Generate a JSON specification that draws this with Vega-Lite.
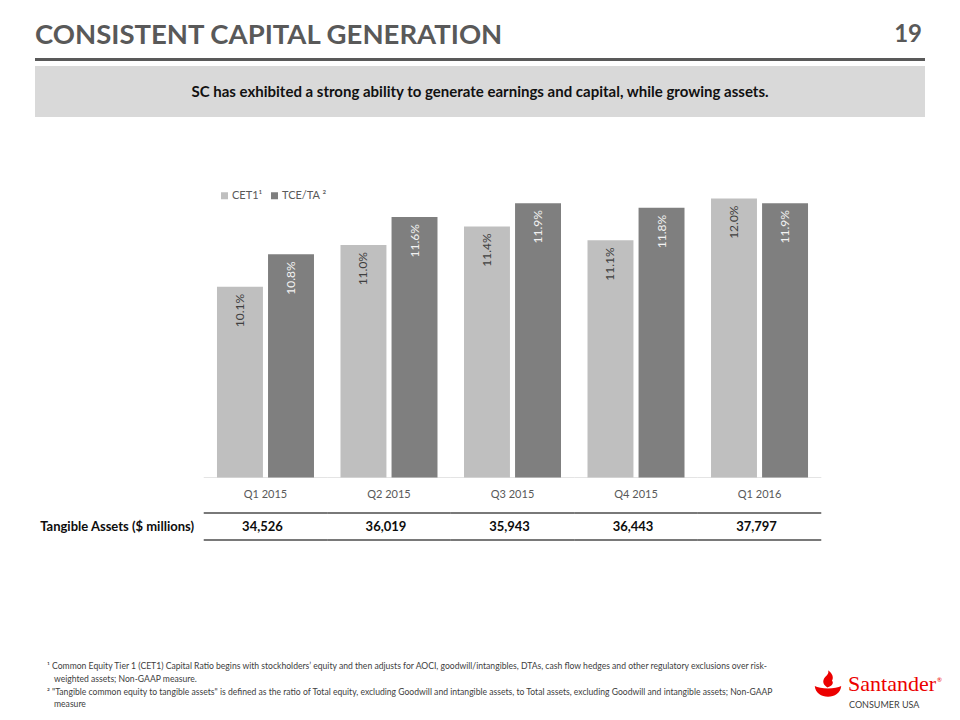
{
  "$schema": "https://vega.github.io/schema/vega-lite/v6.json",
  "background": "white",
  "padding": {"left": 35, "top": 22, "right": 0, "bottom": 0},
  "config": {"view": {"stroke": null}, "font": "Lato"},
  "datasets": {
    "header": [{"title": "CONSISTENT CAPITAL GENERATION", "page": "19"}],
    "banner": [{"msg": "SC has exhibited a strong ability to generate earnings and capital, while growing assets."}],
    "ratios": [
      {"quarter": "Q1 2015", "series": "CET1", "value": 0.101},
      {"quarter": "Q1 2015", "series": "TCE/TA", "value": 0.108},
      {"quarter": "Q2 2015", "series": "CET1", "value": 0.110},
      {"quarter": "Q2 2015", "series": "TCE/TA", "value": 0.116},
      {"quarter": "Q3 2015", "series": "CET1", "value": 0.114},
      {"quarter": "Q3 2015", "series": "TCE/TA", "value": 0.119},
      {"quarter": "Q4 2015", "series": "CET1", "value": 0.111},
      {"quarter": "Q4 2015", "series": "TCE/TA", "value": 0.118},
      {"quarter": "Q1 2016", "series": "CET1", "value": 0.120},
      {"quarter": "Q1 2016", "series": "TCE/TA", "value": 0.119}
    ],
    "assets": [
      {"quarter": "Q1 2015", "assets": 34526},
      {"quarter": "Q2 2015", "assets": 36019},
      {"quarter": "Q3 2015", "assets": 35943},
      {"quarter": "Q4 2015", "assets": 36443},
      {"quarter": "Q1 2016", "assets": 37797}
    ],
    "rowlabel": [{"label": "Tangible Assets ($ millions)"}],
    "notes": [
      {"line": 1, "note": "¹ Common Equity Tier 1 (CET1) Capital Ratio begins with stockholders’ equity and then adjusts for AOCI, goodwill/intangibles, DTAs, cash flow hedges and other regulatory exclusions over risk-"},
      {"line": 2, "note": "weighted assets; Non-GAAP measure."},
      {"line": 3, "note": "² \"Tangible common equity to tangible assets\" is defined as the ratio of Total equity, excluding Goodwill and intangible assets, to Total assets, excluding Goodwill and intangible assets; Non-GAAP"},
      {"line": 4, "note": "measure"}
    ],
    "logo": [{"brand": "Santander", "reg": "®", "sub": "CONSUMER USA"}]
  },
  "spacing": 5,
  "bounds": "flush",
  "resolve": {"scale": {"x": "independent", "y": "independent", "color": "independent", "xOffset": "independent"}},
  "vconcat": [
    {
      "width": 890,
      "height": 3,
      "view": {"fill": "#595959", "stroke": null},
      "data": {"name": "header"},
      "layer": [
        {
          "mark": {"type": "text", "align": "left", "baseline": "alphabetic", "dy": -15.5, "fontSize": 27.5, "fontWeight": "bold", "color": "#595959"},
          "encoding": {
            "x": {"datum": 0, "type": "quantitative", "scale": {"domain": [0, 1]}, "axis": null},
            "text": {"field": "title"}
          }
        },
        {
          "mark": {"type": "text", "align": "right", "baseline": "alphabetic", "dx": -3, "dy": -17.5, "fontSize": 24, "fontWeight": "bold", "color": "#595959"},
          "encoding": {
            "x": {"datum": 1, "type": "quantitative", "scale": {"domain": [0, 1]}, "axis": null},
            "text": {"field": "page"}
          }
        }
      ]
    },
    {
      "width": 890,
      "height": 51,
      "view": {"fill": "#d9d9d9", "stroke": null},
      "data": {"name": "banner"},
      "mark": {"type": "text", "fontSize": 15, "fontWeight": "bold", "color": "#111111", "baseline": "middle"},
      "encoding": {"text": {"field": "msg"}}
    },
    {
      "width": 890,
      "height": 355.5,
      "data": {"name": "ratios"},
      "encoding": {
        "x": {
          "field": "quarter",
          "type": "nominal",
          "sort": null,
          "scale": {"type": "band", "domain": ["Q1 2015", "Q2 2015", "Q3 2015", "Q4 2015", "Q1 2016"], "range": [170, 785], "paddingInner": 0.2146, "paddingOuter": 0.097, "align": 0.5},
          "axis": {"title": null, "domain": false, "ticks": false, "labelPadding": 11, "labelFontSize": 11, "labelColor": "#595959", "labelAngle": 0, "labelFont": "Lato"}
        }
      },
      "layer": [
        {
          "data": {"name": "assets"},
          "mark": {"type": "tick", "orient": "horizontal", "color": "#d9d9d9", "thickness": 1, "size": 123.5},
          "encoding": {
            "y": {"datum": 0.06, "type": "quantitative", "axis": null}
          }
        },
        {
          "mark": {"type": "bar"},
          "encoding": {
            "xOffset": {"field": "series", "type": "nominal", "scale": {"paddingInner": 0.1, "domain": ["CET1", "TCE/TA"]}},
            "y": {"field": "value", "type": "quantitative", "scale": {"domain": [0.06, 0.13645], "nice": false, "zero": false}, "axis": null},
            "y2": {"datum": 0.06},
            "color": {
              "field": "series",
              "type": "nominal",
              "scale": {"domain": ["CET1", "TCE/TA"], "range": ["#bfbfbf", "#7f7f7f"]},
              "legend": {
                "title": null,
                "orient": "none",
                "legendX": 184,
                "legendY": 68,
                "direction": "horizontal",
                "symbolType": "square",
                "symbolSize": 49,
                "symbolStrokeWidth": 0,
                "labelFontSize": 11,
                "labelColor": "#595959",
                "labelFont": "Lato",
                "columnPadding": 6,
                "labelOffset": 2,
                "padding": 0,
                "labelExpr": "datum.label === 'CET1' ? 'CET1¹' : 'TCE/TA ²'"
              }
            }
          }
        },
        {
          "mark": {"type": "text", "angle": 270, "align": "right", "baseline": "middle", "dx": -7, "fontSize": 12},
          "encoding": {
            "xOffset": {"field": "series", "type": "nominal", "scale": {"paddingInner": 0.1, "domain": ["CET1", "TCE/TA"]}},
            "y": {"field": "value", "type": "quantitative", "axis": null},
            "text": {"field": "value", "type": "quantitative", "format": ".1%"},
            "color": {"condition": {"test": "datum.series === 'CET1'", "value": "#404040"}, "value": "#f2f2f2"}
          }
        }
      ]
    },
    {
      "width": 890,
      "height": 24.5,
      "data": {"values": []},
      "mark": "point"
    },
    {
      "width": 890,
      "height": 27,
      "data": {"name": "assets"},
      "encoding": {
        "x": {
          "field": "quarter",
          "type": "nominal",
          "sort": null,
          "scale": {"type": "band", "domain": ["Q1 2015", "Q2 2015", "Q3 2015", "Q4 2015", "Q1 2016"], "range": [170, 785], "paddingInner": 0.2146, "paddingOuter": 0.097, "align": 0.5},
          "axis": null
        }
      },
      "layer": [
        {
          "mark": {"type": "tick", "orient": "horizontal", "color": "#000000", "thickness": 1.5, "size": 123.5},
          "encoding": {"y": {"datum": 1, "type": "quantitative", "scale": {"domain": [0, 1]}, "axis": null}}
        },
        {
          "mark": {"type": "tick", "orient": "horizontal", "color": "#000000", "thickness": 1.5, "size": 123.5},
          "encoding": {"y": {"datum": 0, "type": "quantitative", "axis": null}}
        },
        {
          "mark": {"type": "text", "fontWeight": "bold", "fontSize": 13, "color": "#0d0d0d", "baseline": "middle", "dx": -3},
          "encoding": {
            "y": {"datum": 0.5, "type": "quantitative", "axis": null},
            "text": {"field": "assets", "type": "quantitative", "format": ","}
          }
        },
        {
          "data": {"name": "rowlabel"},
          "mark": {"type": "text", "align": "right", "baseline": "middle", "fontWeight": "bold", "fontSize": 13, "color": "#0d0d0d", "dx": -23},
          "encoding": {
            "x": {"datum": "Q1 2015", "type": "nominal", "bandPosition": 0},
            "y": {"datum": 0.5, "type": "quantitative", "axis": null},
            "text": {"field": "label"}
          }
        }
      ]
    },
    {
      "width": 890,
      "height": 109.6,
      "data": {"values": []},
      "mark": "point"
    },
    {
      "width": 890,
      "height": 50.8,
      "resolve": {"scale": {"y": "independent"}},
      "layer": [
        {
          "data": {"name": "notes"},
          "transform": [{"filter": "datum.line % 2 == 1"}],
          "mark": {"type": "text", "align": "left", "baseline": "middle", "fontSize": 8.6, "color": "#404040", "dx": 12},
          "encoding": {
            "x": {"datum": 0, "type": "quantitative", "scale": {"domain": [0, 1]}, "axis": null},
            "y": {"field": "line", "type": "ordinal", "scale": {"type": "point", "domain": [1, 2, 3, 4], "padding": 0.5}, "axis": null},
            "text": {"field": "note"}
          }
        },
        {
          "data": {"name": "notes"},
          "transform": [{"filter": "datum.line % 2 == 0"}],
          "mark": {"type": "text", "align": "left", "baseline": "middle", "fontSize": 8.6, "color": "#404040", "dx": 19},
          "encoding": {
            "x": {"datum": 0, "type": "quantitative", "axis": null},
            "y": {"field": "line", "type": "ordinal", "scale": {"type": "point", "domain": [1, 2, 3, 4], "padding": 0.5}, "axis": null},
            "text": {"field": "note"}
          }
        },
        {
          "data": {"name": "logo"},
          "layer": [
            {
              "mark": {"type": "point", "filled": true, "size": 700, "color": "#ec0000", "opacity": 1, "strokeWidth": 0,
                "shape": "M-1,0.2 C-0.6,0.45 0.6,0.45 1,0.2 C0.95,0.75 0.5,1 0,1 C-0.5,1 -0.95,0.75 -1,0.2 Z M-0.05,0.3 C-0.45,0.05 -0.45,-0.3 -0.1,-0.6 C0.05,-0.75 0.05,-0.9 0,-1 C0.35,-0.75 0.45,-0.45 0.3,-0.2 C0.45,-0.05 0.35,0.2 -0.05,0.3 Z"},
              "encoding": {
                "x": {"datum": 0.891, "type": "quantitative", "axis": null},
                "y": {"datum": 0.539, "type": "quantitative", "scale": {"domain": [0, 1]}, "axis": null}
              }
            },
            {
              "mark": {"type": "text", "align": "left", "baseline": "alphabetic", "font": "Liberation Serif", "fontSize": 22, "color": "#ec0000"},
              "encoding": {
                "x": {"datum": 0.9135, "type": "quantitative", "axis": null},
                "y": {"datum": 0.382, "type": "quantitative", "axis": null},
                "text": {"field": "brand"}
              }
            },
            {
              "mark": {"type": "text", "align": "left", "baseline": "middle", "fontSize": 6, "color": "#ec0000"},
              "encoding": {
                "x": {"datum": 1.0135, "type": "quantitative", "axis": null},
                "y": {"datum": 0.598, "type": "quantitative", "axis": null},
                "text": {"field": "reg"}
              }
            },
            {
              "mark": {"type": "text", "align": "left", "baseline": "middle", "fontSize": 9, "color": "#404040"},
              "encoding": {
                "x": {"datum": 0.9146, "type": "quantitative", "axis": null},
                "y": {"datum": 0.106, "type": "quantitative", "axis": null},
                "text": {"field": "sub"}
              }
            }
          ]
        }
      ]
    }
  ]
}
